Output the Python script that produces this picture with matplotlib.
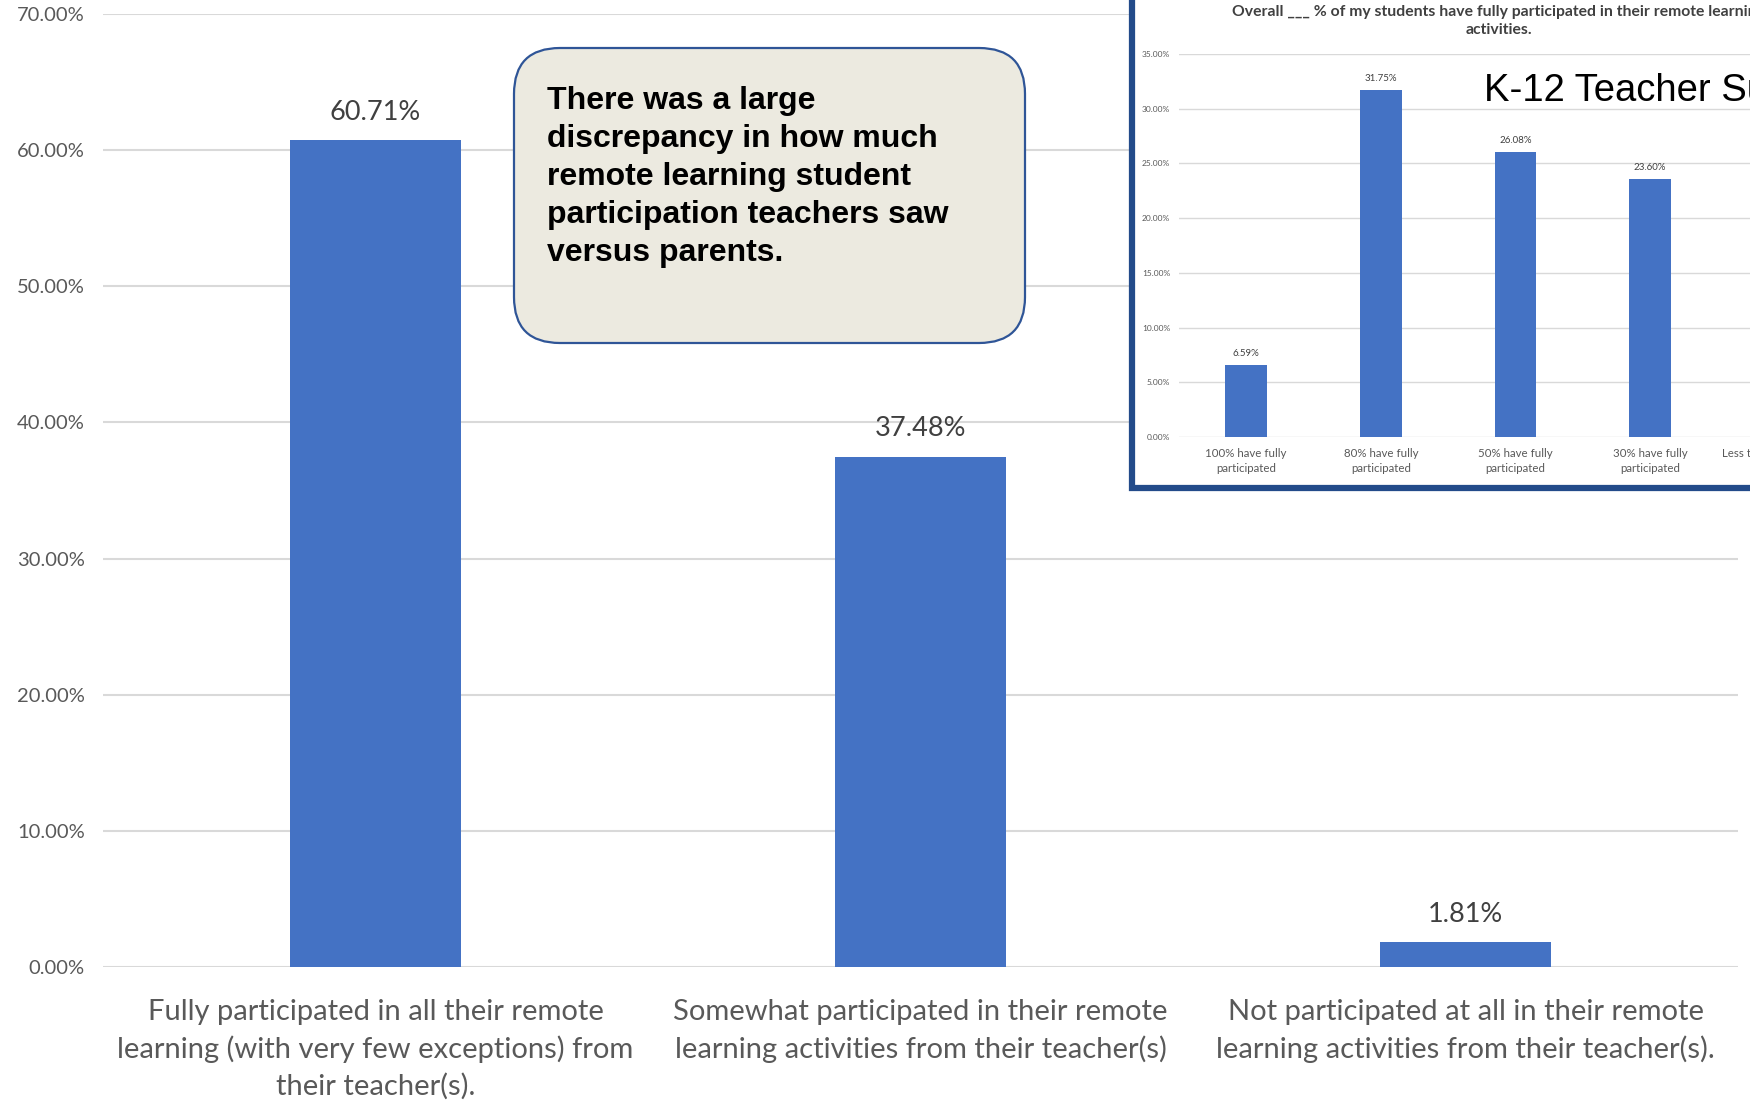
import matplotlib
matplotlib.use("Agg")
import matplotlib.pyplot as plt
from matplotlib.patches import FancyBboxPatch, Rectangle

# ---------------- data ----------------
main_categories = [
    "Fully participated in all their remote\nlearning (with very few exceptions) from\ntheir teacher(s).",
    "Somewhat participated in their remote\nlearning activities from their teacher(s)",
    "Not participated at all in their remote\nlearning activities from their teacher(s).",
]
main_values = [60.71, 37.48, 1.81]
main_ticks = [0, 10, 20, 30, 40, 50, 60, 70]

inset_categories = [
    "100% have fully\nparticipated",
    "80% have fully\nparticipated",
    "50% have fully\nparticipated",
    "30% have fully\nparticipated",
    "Less than 30% have fully\nparticipated",
]
inset_values = [6.59, 31.75, 26.08, 23.60, 11.98]
inset_ticks = [0, 5, 10, 15, 20, 25, 30, 35]

inset_title = ("Overall ___ % of my students have fully participated in their remote learning\n"
               "activities.")
inset_caption = "K-12 Teacher Survey"
callout_lines = [
    "There was a large",
    "discrepancy in how much",
    "remote learning student",
    "participation teachers saw",
    "versus parents.",
]

# ---------------- style ----------------
W, H = 1750, 1105
BAR = "#4472C4"
GRID = "#D9D9D9"
TXT = "#595959"
VAL = "#404040"
FONT = ["Lato", "DejaVu Sans"]
ARIAL = ["Liberation Sans", "DejaVu Sans"]

fig = plt.figure(figsize=(W / 100, H / 100), dpi=100)
fig.patch.set_facecolor("white")


def px_axes(x0, y0, x1, y1):
    """figure-fraction rect from pixel box (top-left origin)"""
    return [x0 / W, 1 - y1 / H, (x1 - x0) / W, (y1 - y0) / H]


# ---------------- main chart ----------------
ax = fig.add_axes(px_axes(103, 14, 1738, 967), zorder=0)
xs = list(range(len(main_values)))
ax.bar(xs, main_values, width=0.314, color=BAR, zorder=2)
ax.set_xlim(-0.5, len(main_values) - 0.5)
ax.set_ylim(0, 70)
ax.set_yticks(main_ticks)
ax.set_yticklabels([f"{t:.2f}%" for t in main_ticks], fontsize=14.5, color=TXT, family=FONT)
ax.set_xticks(xs)
ax.set_xticklabels(main_categories, fontsize=21, color=TXT, family=FONT, linespacing=1.46)
ax.tick_params(axis="both", length=0)
ax.tick_params(axis="y", pad=13)
ax.tick_params(axis="x", pad=23)
ax.grid(axis="y", color=GRID, linewidth=1.5, zorder=0)
ax.set_axisbelow(True)
for s in ax.spines.values():
    s.set_visible(False)
for x, v in zip(xs, main_values):
    ax.annotate(f"{v:.2f}%", (x, v), xytext=(0, 20), textcoords="offset points",
                ha="center", va="center", fontsize=19.5, color=VAL, family=FONT)

# ---------------- overlay (pixel coordinates) ----------------
ov = fig.add_axes([0, 0, 1, 1], zorder=1)
ov.set_xlim(0, W)
ov.set_ylim(H, 0)
ov.axis("off")

# inset frame
ov.add_patch(Rectangle((1132, -20), 700, 508, facecolor="white",
                       edgecolor="#234B8A", linewidth=4.5))
# callout box
ov.add_patch(FancyBboxPatch((514, 48), 511, 295,
                            boxstyle="round,pad=0,rounding_size=46",
                            facecolor="#ECEAE0", edgecolor="#2F5597", linewidth=1.6))
for i, line in enumerate(callout_lines):
    ov.text(547, 109 + 38 * i, line, ha="left", va="baseline", fontsize=23,
            fontweight="bold", color="black", family=ARIAL)

# ---------------- inset chart ----------------
ix = fig.add_axes(px_axes(1178.7, 54, 1178.7 + 134.7 * 5, 437), zorder=2)
ix.patch.set_alpha(0)
ixs = list(range(len(inset_values)))
ix.bar(ixs, inset_values, width=0.31, color=BAR, zorder=2)
ix.set_xlim(-0.5, len(inset_values) - 0.5)
ix.set_ylim(0, 35)
ix.set_yticks(inset_ticks)
ix.set_yticklabels([f"{t:.2f}%" for t in inset_ticks], fontsize=6, color=TXT, family=FONT)
ix.set_xticks(ixs)
ix.set_xticklabels(inset_categories, fontsize=8.3, color=TXT, family=FONT, linespacing=1.45)
ix.tick_params(axis="both", length=0)
ix.tick_params(axis="y", pad=6)
ix.tick_params(axis="x", pad=8)
ix.grid(axis="y", color=GRID, linewidth=1.0, zorder=0)
ix.set_axisbelow(True)
for s in ix.spines.values():
    s.set_visible(False)
for x, v in zip(ixs, inset_values):
    ix.annotate(f"{v:.2f}%", (x, v), xytext=(0, 8), textcoords="offset points",
                ha="center", va="center", fontsize=7, color=VAL, family=FONT)

fig.text(1499, 21, inset_title, transform=ov.transData, ha="center", va="center",
         fontsize=11.3, fontweight="bold", color=VAL, family=FONT, linespacing=1.4, zorder=5)
fig.text(1484, 91, inset_caption, transform=ov.transData, ha="left", va="center",
         fontsize=27.5, color="black", family=ARIAL, zorder=5)

fig.savefig("out.png", dpi=100)
